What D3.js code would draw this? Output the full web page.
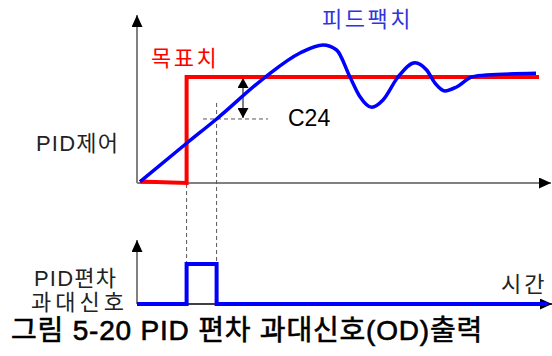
<!DOCTYPE html>
<html><head><meta charset="utf-8">
<script src="https://cdn.jsdelivr.net/npm/d3@7"></script>
<style>html,body{margin:0;padding:0;background:#fff;}svg{display:block;}</style>
</head><body>
<script>
// ---- data ----
const feedback = [[0.75,1.2],[12.4,37.5],[19.9,60.4],[32,99.7],[40.75,122.6],[46.5,130.2],[49.9,125.5],[53.25,100],[55.75,81.4],[58.7,71.4],[61.5,78.3],[65.25,100],[69.5,113.5],[72.4,106.6],[74.5,94.3],[77,86.8],[79.9,90.6],[83.7,100],[87.4,101.9],[99.75,103.5]];
const setpoint = [[0.75,1.5],[12.4,0],[12.4,100],[100.5,100]];
const odSignal = [[0,0],[12.4,0],[12.4,1],[19.9,1],[19.9,0],[102.8,0]];
const c24Level = 60.4, c24Time = 19.9, arrowTime = 26.5, setLevel = 100;
const labels = {pid:"PID제어", target:"목표치", fb:"피드팩치", od1:"PID편차", od2:"과대신호", time:"시간", c24:"C24",
  caption:"그림 5-20 PID 편차 과대신호(OD)출력"};

const W=552,H=356;
const svg=d3.select("body").append("svg").attr("width",W).attr("height",H);
const x=d3.scaleLinear().domain([0,100]).range([137,537]);
const y=d3.scaleLinear().domain([0,100]).range([183,77]);
const y2=d3.scaleLinear().domain([0,1]).range([304,264]);
const FONT='"Liberation Sans","Noto Sans CJK KR",sans-serif';

const defs=svg.append("defs");
function marker(id,w,h){
  defs.append("marker").attr("id",id).attr("markerUnits","userSpaceOnUse")
   .attr("viewBox",`0 0 ${h} ${w}`).attr("refX",h).attr("refY",w/2)
   .attr("markerWidth",h).attr("markerHeight",w).attr("orient","auto-start-reverse")
   .append("path").attr("d",`M0,0L${h},${w/2}L0,${w}Z`).attr("fill","#000");
}
marker("ax",11,12);
marker("da",11,10);

const gray="#808080";
// upper axes
svg.append("line").attr("x1",x(0)).attr("y1",y(0)).attr("x2",x(0)).attr("y2",15)
  .attr("stroke",gray).attr("stroke-width",2).attr("marker-end","url(#ax)");
svg.append("line").attr("x1",x(0)).attr("y1",y(0)).attr("x2",551).attr("y2",y(0))
  .attr("stroke",gray).attr("stroke-width",2).attr("marker-end","url(#ax)");
// lower axes
svg.append("line").attr("x1",x(0)).attr("y1",y2(0)).attr("x2",x(0)).attr("y2",240)
  .attr("stroke",gray).attr("stroke-width",2).attr("marker-end","url(#ax)");
svg.append("line").attr("x1",x(0)).attr("y1",y2(0)).attr("x2",552).attr("y2",y2(0))
  .attr("stroke","#000").attr("stroke-width",1.5).attr("marker-end","url(#ax)");

// dashed guides
const dash={stroke:"#555","stroke-width":1,"stroke-dasharray":"4,3"};
function dl(x1,y1,x2,y2){const l=svg.append("line").attr("x1",x1).attr("y1",y1).attr("x2",x2).attr("y2",y2);for(const k in dash)l.attr(k,dash[k]);}
dl(x(16.5),y(c24Level),x(32.75),y(c24Level));
dl(x(c24Time),y(75.5),x(c24Time),y2(1));
dl(x(12.4),y(0)+1,x(12.4),y2(1));

// double arrow
svg.append("line").attr("x1",x(arrowTime)).attr("x2",x(arrowTime)).attr("y1",y(setLevel)+1).attr("y2",y(c24Level)-1)
  .attr("stroke","#000").attr("stroke-width",1).attr("marker-start","url(#da)").attr("marker-end","url(#da)");

const line=d3.line().x(d=>x(d[0])).y(d=>y(d[1]));
svg.append("path").datum(setpoint).attr("d",line).attr("fill","none").attr("stroke","#ff0000").attr("stroke-width",4);
svg.append("path").datum(feedback).attr("d",line.curve(d3.curveMonotoneX)).attr("fill","none").attr("stroke","#0000ff").attr("stroke-width",3.5);

const line2=d3.line().x(d=>x(d[0])).y(d=>y2(d[1]));
svg.append("path").datum(odSignal).attr("d",line2).attr("fill","none").attr("stroke","#0000ff").attr("stroke-width",4);

function txt(s,xx,yy,size,color,ls,sw){
  const t=svg.append("text").attr("x",xx).attr("y",yy).attr("font-family",FONT).attr("font-size",size)
   .attr("fill",color||"#000").attr("letter-spacing",ls||0).text(s);
  if(sw) t.attr("stroke",color||"#000").attr("stroke-width",sw);
}
txt(labels.pid,36,150.5,22,"#222",1.2);
txt(labels.target,151,65.5,22,"#ff0000",2.5);
txt(labels.fb,322,26.5,22,"#3333dd",2.5);
txt(labels.od1,34,285.5,22,"#222",1.2);
txt(labels.od2,31,309.5,22,"#222",4);
txt(labels.time,501,291.5,22,"#222",3);
txt(labels.c24,288,126,23,"#000");
txt(labels.caption,11,340,28,"#000",0.8,0.6);
</script>
</body></html>
